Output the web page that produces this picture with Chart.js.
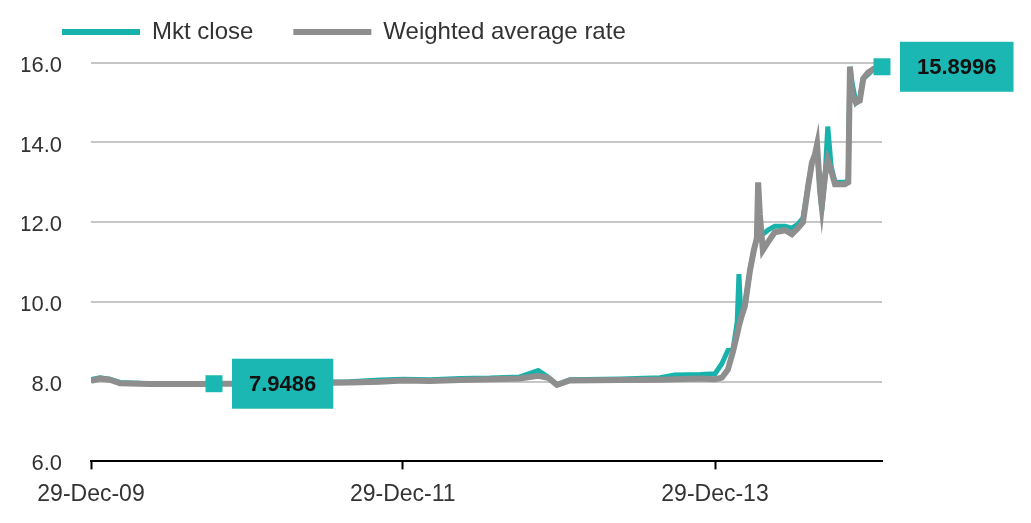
<!DOCTYPE html>
<html>
<head>
<meta charset="utf-8">
<script src="https://cdn.jsdelivr.net/npm/chart.js@4.4.1/dist/chart.umd.min.js"></script>
<style>
  html, body { margin: 0; padding: 0; background: #fff; }
  #wrap { width: 1031px; height: 523px; position: relative; }
</style>
</head>
<body>
<div id="wrap"><canvas id="chart"></canvas></div>
<script>
const startDate = "2009-12-29";
const endDate = "2015-01-24";

const dates = [
  "2009-12-29", "2010-01-19", "2010-02-11", "2010-03-07", "2010-05-16", "2010-09-10",
  "2010-10-13", "2011-01-05", "2011-05-02", "2011-08-27", "2011-11-06", "2011-12-29",
  "2012-03-02", "2012-05-11", "2012-07-20", "2012-09-28", "2012-11-10", "2012-12-03",
  "2012-12-24", "2013-01-23", "2013-05-21", "2013-08-22", "2013-09-26", "2013-11-24",
  "2013-12-29", "2014-01-14", "2014-01-28", "2014-02-09", "2014-02-19", "2014-02-23",
  "2014-02-28", "2014-03-09", "2014-03-21", "2014-03-30", "2014-04-06", "2014-04-09",
  "2014-04-13", "2014-04-20", "2014-05-02", "2014-05-18", "2014-06-11", "2014-06-27",
  "2014-07-11", "2014-07-23", "2014-08-04", "2014-08-13", "2014-08-20", "2014-08-25",
  "2014-09-01", "2014-09-05", "2014-09-13", "2014-09-19", "2014-09-27", "2014-10-06",
  "2014-10-29", "2014-11-06", "2014-11-10", "2014-11-15", "2014-11-24", "2014-12-03",
  "2014-12-11", "2014-12-22", "2015-01-05", "2015-01-19"
];
const mktClose = [
  8.05, 8.10, 8.06, 7.98, 7.95, 7.95,
  7.95, 7.96, 7.98, 8.00, 8.04, 8.06,
  8.05, 8.08, 8.09, 8.12, 8.28, 8.12,
  7.92, 8.05, 8.07, 8.10, 8.17, 8.18,
  8.20, 8.45, 8.78, 8.80, 9.50, 10.70,
  9.60, 9.90, 10.80, 11.30, 11.60, 12.00,
  11.80, 11.70, 11.80, 11.90, 11.90, 11.85,
  11.95, 12.10, 12.90, 13.50, 13.60, 13.80,
  12.80, 12.30, 13.20, 14.40, 13.40, 13.00,
  13.00, 13.05, 15.90, 15.50, 15.00, 15.10,
  15.60, 15.70, 15.85, 15.90
];
const weightedAvg = [
  8.02, 8.08, 8.05, 7.96, 7.94, 7.94,
  7.95, 7.95, 7.96, 7.98, 8.00, 8.03,
  8.02, 8.04, 8.06, 8.08, 8.15, 8.10,
  7.92, 8.03, 8.04, 8.05, 8.06, 8.08,
  8.06, 8.10, 8.30, 8.75, 9.20, 9.40,
  9.60, 9.90, 10.80, 11.30, 11.60, 13.00,
  12.20, 11.30, 11.50, 11.75, 11.80, 11.70,
  11.85, 12.00, 12.90, 13.50, 13.70, 13.95,
  12.80, 12.40, 13.20, 13.55, 13.30, 12.95,
  12.95, 13.00, 15.90, 15.20, 15.00, 15.05,
  15.60, 15.75, 15.85, 15.90
];

const tickDates = ["2009-12-29", "2011-12-29", "2013-12-29"];
const tickLabels = ["29-Dec-09", "29-Dec-11", "29-Dec-13"];
const yTicks = [6, 8, 10, 12, 14, 16];

const calloutDates = ["2010-10-13", "2015-01-24"];
const calloutValues = [7.9486, 15.8996];

const teal = "#17b2ab";
const boxTeal = "#1bb7b2";
const grey = "#8e8e8e";
const fontFamily = "'Liberation Sans', Arial, sans-serif";

function dayOf(d) {
  return (Date.parse(d) - Date.parse(startDate)) / 86400000;
}

function toPoints(values) {
  return dates.map((d, i) => ({ x: dayOf(d), y: values[i] }));
}

// teal value boxes next to the two square markers
const calloutLabels = {
  id: "calloutLabels",
  afterDatasetsDraw(chart) {
    const meta = chart.getDatasetMeta(0);
    const ctx = chart.ctx;
    ctx.save();
    ctx.font = "bold 22px " + fontFamily;
    meta.data.forEach((pt, i) => {
      const text = calloutValues[i].toFixed(4);
      const w = ctx.measureText(text).width + 34;
      const h = 50;
      const left = pt.x + 18;
      ctx.fillStyle = boxTeal;
      ctx.fillRect(left, pt.y - h / 2, w, h);
      ctx.fillStyle = "#111";
      ctx.textAlign = "center";
      ctx.textBaseline = "middle";
      ctx.fillText(text, left + w / 2, pt.y + 1);
    });
    ctx.restore();
  }
};

new Chart(document.getElementById("chart"), {
  type: "line",
  data: {
    datasets: [
      {
        label: "callouts",
        data: calloutDates.map((d, i) => ({ x: dayOf(d), y: calloutValues[i] })),
        showLine: false,
        pointStyle: "rect",
        pointRadius: 12,
        pointBackgroundColor: boxTeal,
        pointBorderWidth: 0,
        clip: false
      },
      {
        label: "Weighted average rate",
        data: toPoints(weightedAvg),
        borderColor: grey,
        backgroundColor: grey,
        borderWidth: 6,
        pointRadius: 0,
        tension: 0
      },
      {
        label: "Mkt close",
        data: toPoints(mktClose),
        borderColor: teal,
        backgroundColor: teal,
        borderWidth: 5,
        pointRadius: 0,
        tension: 0
      }
    ]
  },
  options: {
    responsive: true,
    maintainAspectRatio: false,
    animation: false,
    layout: { padding: { top: -20, left: 22, right: 149, bottom: 4 } },
    plugins: {
      tooltip: { enabled: false },
      legend: {
        position: "top",
        align: "start",
        labels: {
          boxWidth: 78,
          boxHeight: 6,
          padding: 40,
          color: "#333",
          font: { family: fontFamily, size: 24 },
          filter: (item) => item.datasetIndex > 0,
          sort: (a, b) => b.datasetIndex - a.datasetIndex,
          generateLabels(chart) {
            const items = Chart.defaults.plugins.legend.labels.generateLabels(chart);
            items.forEach((it) => {
              it.lineWidth = 0;
              it.fillStyle = it.strokeStyle;
            });
            return items;
          }
        }
      }
    },
    scales: {
      x: {
        type: "linear",
        min: 0,
        max: dayOf(endDate),
        afterBuildTicks(scale) {
          scale.ticks = tickDates.map((d) => ({ value: dayOf(d) }));
        },
        ticks: {
          autoSkip: false,
          maxRotation: 0,
          padding: 11,
          color: "#333",
          font: { family: fontFamily, size: 23 },
          callback: (v, i) => tickLabels[i]
        },
        grid: {
          drawOnChartArea: false,
          tickLength: 8,
          tickColor: "#000",
          tickWidth: 2
        },
        border: { color: "#000", width: 2 }
      },
      y: {
        min: 6,
        max: 16.22,
        afterBuildTicks(scale) {
          scale.ticks = yTicks.map((v) => ({ value: v }));
        },
        afterFit(scale) {
          scale.width = 69;
        },
        ticks: {
          padding: 29,
          labelOffset: 3,
          color: "#333",
          font: { family: fontFamily, size: 22 },
          callback: (v) => Number(v).toFixed(1)
        },
        grid: {
          drawTicks: false,
          lineWidth: 2,
          color: (c) => (c.tick && c.tick.value === 6 ? "rgba(0,0,0,0)" : "#c6c6c6")
        },
        border: { display: false }
      }
    }
  },
  plugins: [calloutLabels]
});
</script>
</body>
</html>
